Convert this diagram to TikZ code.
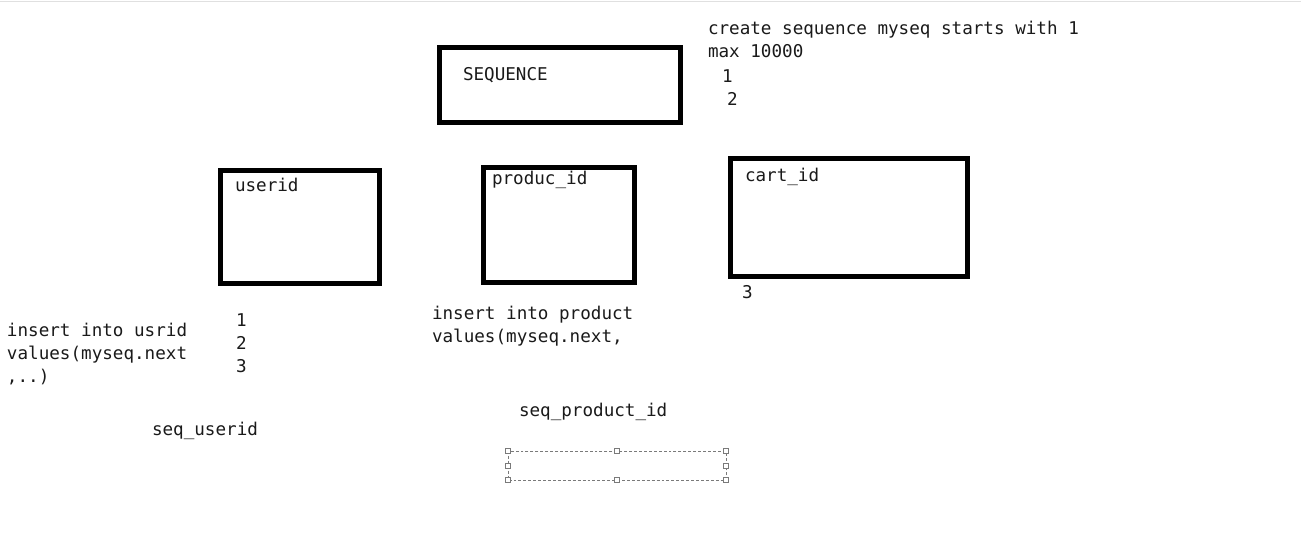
\documentclass[tikz,border=0pt]{standalone}
\usepackage{fontspec}
\newfontfamily\monofnt{DejaVu Sans Mono}
\definecolor{txt}{HTML}{1A1A1A}
\definecolor{selgray}{HTML}{7A7A7A}
\begin{document}
\begin{tikzpicture}[x=0.75pt,y=-0.75pt,
  boxstyle/.style={draw=black,line width=3.6pt,fill=none},
  lbl/.style={anchor=base west,inner sep=0pt,outer sep=0pt,text=txt,align=left,
    font=\monofnt\fontsize{13.2}{17.25}\selectfont},
  handle/.style={draw=selgray,fill=white,line width=0.5pt,minimum size=3.6pt,inner sep=0pt,rectangle},
  sel/.style={draw=selgray,dashed,line width=0.5pt,dash pattern=on 2.2pt off 1.5pt}]
\useasboundingbox (0,0) rectangle (1301,553);
\fill[white] (0,0) rectangle (1301,553);
\draw[black!12,line width=0.8pt] (0,1.5) -- (1301,1.5);

% boxes
\draw[boxstyle] (439.5,47.5) rectangle (680.5,122.5);
\draw[boxstyle] (220.5,170.5) rectangle (379.5,283.5);
\draw[boxstyle] (483.5,167.5) rectangle (634.5,282.5);
\draw[boxstyle] (730.5,158.5) rectangle (967.5,276.5);

% texts (base = baseline of the last line)
\node[lbl] (seq) at (463,80) {SEQUENCE};
\node[lbl] (create) at (708,57) {create sequence myseq starts with 1\\max 10000};
\node[lbl] (s1) at (722,82) {1};
\node[lbl] (s2) at (727,105) {2};
\node[lbl] (userid) at (235,191) {userid};
\node[lbl] (prod) at (492,184) {produc\_id};
\node[lbl] (cart) at (745,181) {cart\_id};
\node[lbl] (c3) at (742,298) {3};
\node[lbl] (ins1) at (7,382) {insert into usrid\\values(myseq.next\\,..)};
\node[lbl] (u1) at (236,372) {1\\2\\3};
\node[lbl] (ins2) at (432,342) {insert into product\\values(myseq.next,};
\node[lbl] (sp) at (519,416) {seq\_product\_id};
\node[lbl] (su) at (152,435) {seq\_userid};

% selection frame
\draw[sel] (508,451) rectangle (726,480);
\foreach \p [count=\i] in {(508,451),(617,451),(726,451),(508,466),(726,466),(508,480),(617,480),(726,480)}
  \node[handle] (h\i) at \p {};
\end{tikzpicture}
\end{document}
